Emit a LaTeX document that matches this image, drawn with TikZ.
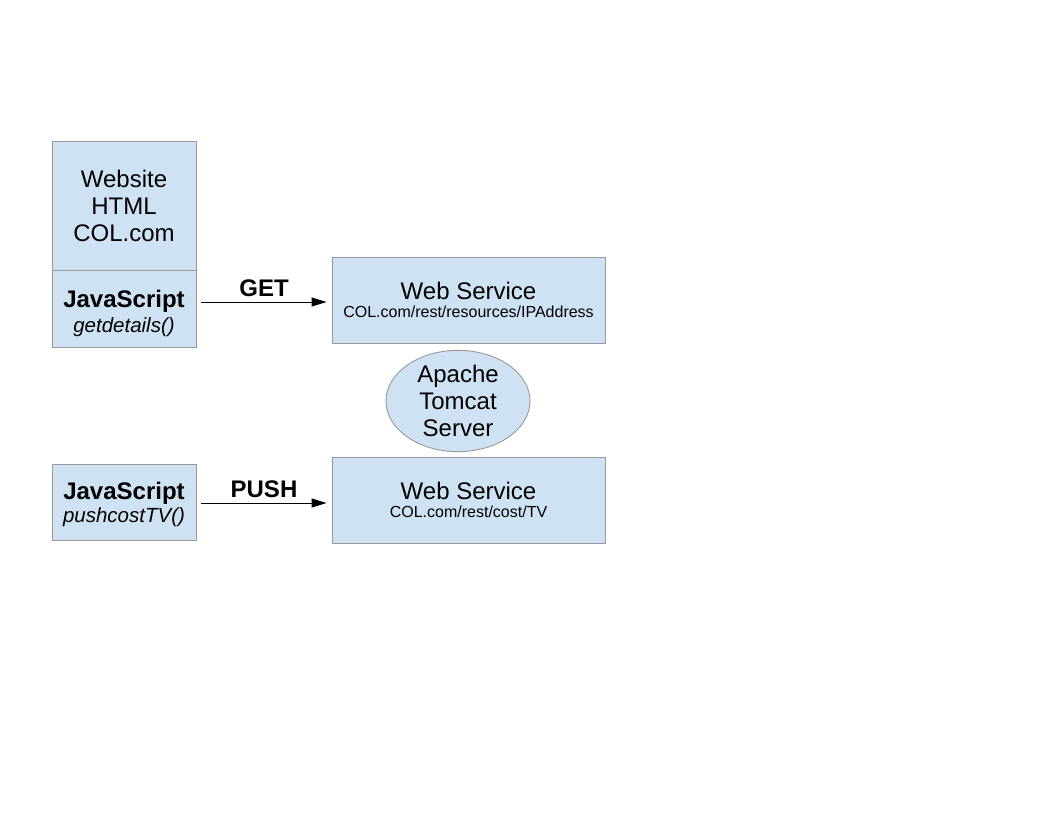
\documentclass[tikz,border=0pt]{standalone}
\usepackage{fontspec}
\setmainfont{Liberation Sans}
\usetikzlibrary{arrows.meta,shapes.geometric,calc}
\definecolor{boxfill}{HTML}{CFE2F3}
\definecolor{boxline}{HTML}{999999}
\newcommand{\itsmall}{\fontsize{20.5}{25}\selectfont\itshape}
\newcommand{\urlsmall}{\fontsize{16}{18}\selectfont}
\begin{document}
\begin{tikzpicture}[x=1pt,y=-1pt,
  box/.style={draw=boxline,fill=boxfill,line width=0.9pt,inner sep=0pt,align=center,
    font=\fontsize{24}{27}\selectfont},
  arr/.style={-{Triangle[length=15pt,width=9pt]},line width=0.9pt},
  lbl/.style={font=\fontsize{24}{27}\selectfont\bfseries,inner sep=0pt}]
\useasboundingbox (0,0) rectangle (1056,816);
\node[box,minimum width=144pt,minimum height=129pt] (web) at (124,205.5) {Website\\HTML\\COL.com};
\node[box,minimum width=144pt,minimum height=77pt] (js1) at (124,308.5) {\rule{0pt}{28pt}\textbf{JavaScript}\\[-2pt]{\itsmall getdetails()}};
\node[box,minimum width=273pt,minimum height=86pt] (ws1) at (468.5,300) {Web Service\\[-9pt]{\urlsmall COL.com/rest/resources/IPAddress}};
\node[box,ellipse,minimum width=144pt,minimum height=100pt] (ell) at (458,401) {Apache\\Tomcat\\Server};
\node[box,minimum width=273pt,minimum height=86pt] (ws2) at (468.5,500) {Web Service\\[-9pt]{\urlsmall COL.com/rest/cost/TV}};
\node[box,minimum width=144pt,minimum height=76pt] (js2) at (124,502) {\rule{0pt}{22pt}\textbf{JavaScript}\\[-4pt]{\itsmall pushcostTV()}};
\coordinate (g1) at ($(js1.east |- ws1.west)+(5,2)$);
\coordinate (g2) at ($(ws1.west)+(-5,2)$);
\draw[arr] (g1) -- (g2);
\node[lbl] (getl) at ($(g1)!0.5!(g2)+(0,-14)$) {GET};
\coordinate (p1) at ($(js2.east)+(5,1)$);
\coordinate (p2) at ($(ws2.west |- js2.east)+(-5,1)$);
\draw[arr] (p1) -- (p2);
\node[lbl] (pushl) at ($(p1)!0.5!(p2)+(0,-14)$) {PUSH};
\end{tikzpicture}
\end{document}
